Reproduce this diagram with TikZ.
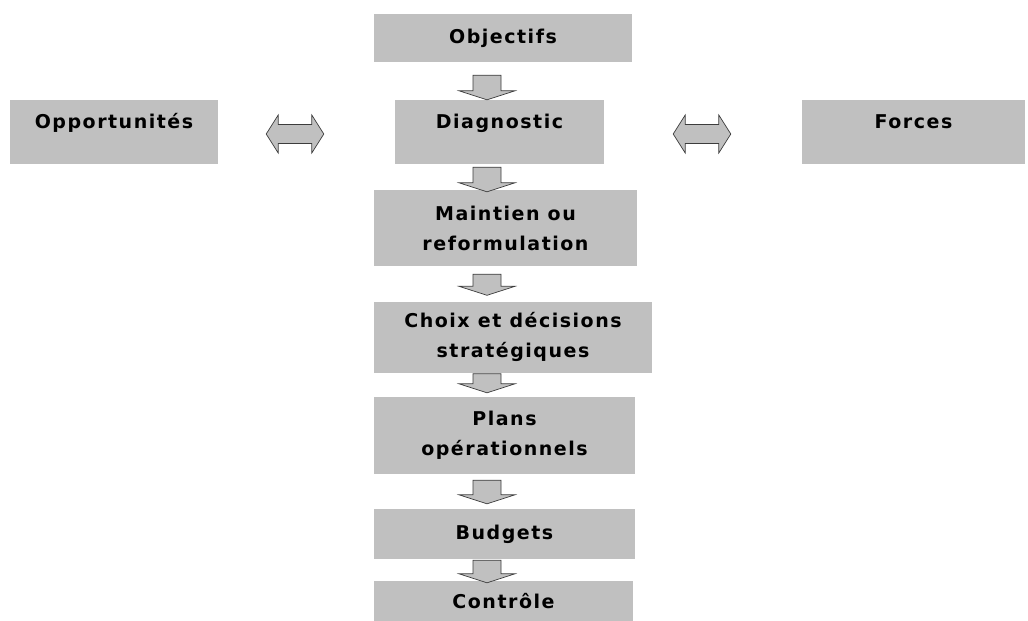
\documentclass[tikz,border=0pt]{standalone}
\usepackage{fontspec}
\setmainfont{DejaVu Sans}[LetterSpace=8]
\usetikzlibrary{calc}
\definecolor{boxgray}{RGB}{192,192,192}
\definecolor{edgegray}{RGB}{60,60,60}
% downward block arrow: upper node, lower node, gap under upper node, tip lift above lower node
\newcommand\flowarrow[4]{%
  \draw[blockarrow] let \p1=(#1.south -| axis), \p2=(#2.north -| axis) in
    (\x1-14pt,\y1-#3) -- (\x1+14pt,\y1-#3) -- (\x1+14pt,\y2+#4+9pt)
    -- (\x1+28pt,\y2+#4+9pt) -- (\x1,\y2+#4) -- (\x1-28pt,\y2+#4+9pt)
    -- (\x1-14pt,\y2+#4+9pt) -- cycle;}
% horizontal double block arrow: left node, right node, left gap, right gap
\newcommand\sidearrow[4]{%
  \draw[blockarrow] let \p1=(#1.east), \p2=(#2.west) in
    (\x1+#3,\y1-2pt) -- (\x1+#3+12pt,\y1-2pt+19pt) -- (\x1+#3+12pt,\y1-2pt+9.5pt)
    -- (\x2-#4-12pt,\y1-2pt+9.5pt) -- (\x2-#4-12pt,\y1-2pt+19pt) -- (\x2-#4,\y1-2pt)
    -- (\x2-#4-12pt,\y1-2pt-19pt) -- (\x2-#4-12pt,\y1-2pt-9.5pt)
    -- (\x1+#3+12pt,\y1-2pt-9.5pt) -- (\x1+#3+12pt,\y1-2pt-19pt) -- cycle;}
\begin{document}
\begin{tikzpicture}[x=1pt,y=-1pt,
  box/.style={fill=boxgray, draw=none, inner sep=0pt, align=center,
    font=\fontsize{19}{30}\selectfont\bfseries},
  raised/.style={text height=13pt, text depth=20pt},
  blockarrow/.style={fill=boxgray, draw=edgegray, line width=0.7pt, line join=miter}]
\useasboundingbox (0,0) rectangle (1028,621);
\coordinate (axis) at (487,0);

\node[box, minimum width=258, minimum height=48] (obj) at (503,38) {Objectifs};
\node[box, raised, minimum width=209, minimum height=64] (diag) at (499.5,132) {Diagnostic};
\node[box, raised, minimum width=208, minimum height=64] (opp) at (114,132) {Opportunités};
\node[box, raised, minimum width=223, minimum height=64] (forces) at (913.5,132) {Forces};
\node[box, minimum width=263, minimum height=76] (maint) at (505.5,228) {Maintien ou\\reformulation};
\node[box, minimum width=278, minimum height=71] (choix) at (513,337) {Choix et décisions\\stratégiques};
\node[box, minimum width=261, minimum height=77] (plans) at (504.5,435.5) {Plans\\opérationnels};
\node[box, minimum width=261, minimum height=50] (budgets) at (504.5,534) {Budgets};
\node[box, minimum width=259, minimum height=40] (controle) at (503.5,601) {Contrôle};

\flowarrow{obj}{diag}{13pt}{0pt}
\flowarrow{diag}{maint}{3pt}{-2pt}
\flowarrow{maint}{choix}{8pt}{6pt}
\flowarrow{choix}{plans}{1pt}{4pt}
\flowarrow{plans}{budgets}{6pt}{5pt}
\flowarrow{budgets}{controle}{1pt}{-2pt}

\sidearrow{opp}{diag}{48pt}{71pt}
\sidearrow{diag}{forces}{69pt}{71pt}
\end{tikzpicture}
\end{document}
